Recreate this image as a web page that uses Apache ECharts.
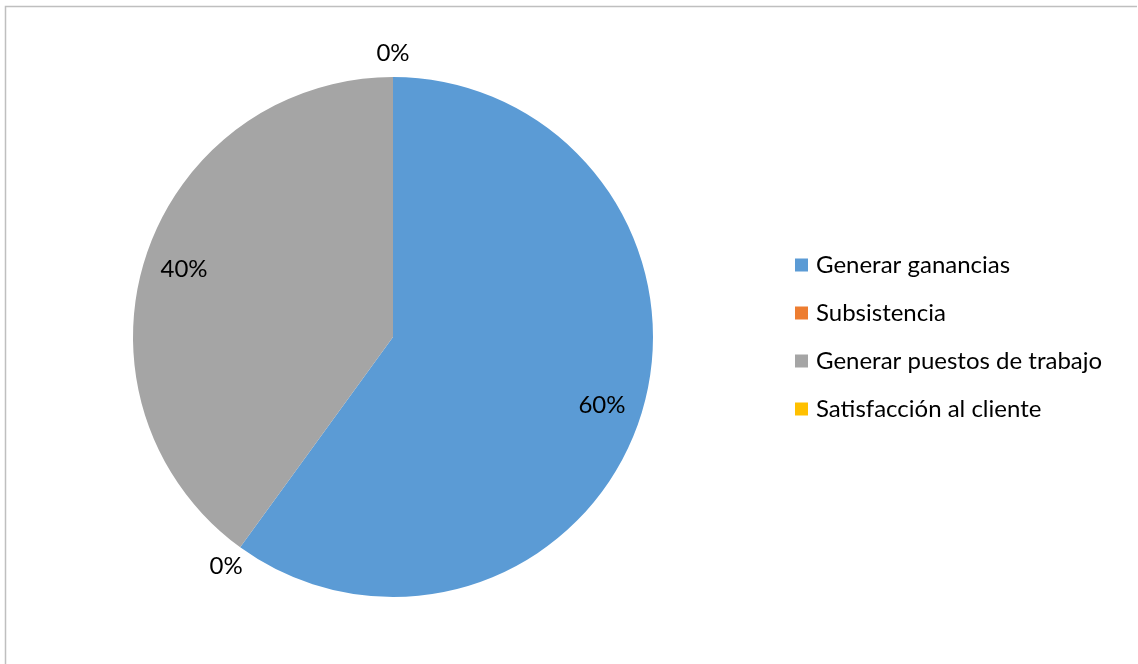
<!DOCTYPE html>
<html>
<head>
<meta charset="utf-8">
<script src="https://cdn.jsdelivr.net/npm/echarts@6/dist/echarts.min.js"></script>
<style>
  html, body { margin: 0; padding: 0; background: #fff; }
  #chart { width: 1138px; height: 664px; }
</style>
</head>
<body>
<div id="chart"></div>
<script>
// Purposes of the business, share of responses
const categories = ['Generar ganancias', 'Subsistencia', 'Generar puestos de trabajo', 'Satisfacción al cliente'];
const values = [60, 0, 40, 0];
const colors = ['#5B9BD5', '#ED7D31', '#A5A5A5', '#FFC000'];

const FONT = 'Lato, "Liberation Sans", sans-serif';
const FONT_SIZE = 24;
const CENTER = [393, 337];
const R = 260;

// Mid angle of each slice (radians, clockwise from 12 o'clock)
const total = values.reduce((a, b) => a + b, 0);
const midAngles = [];
{
  let acc = 0;
  values.forEach(v => {
    midAngles.push(((acc + v / 2) / total) * 2 * Math.PI);
    acc += v;
  });
}

const chart = echarts.init(document.getElementById('chart'));

chart.setOption({
  animation: false,
  textStyle: { fontFamily: FONT },
  graphic: [{
    type: 'polyline',
    shape: { points: [[5.5, 700], [5.5, 6.5], [1137, 6.5]] },
    style: { stroke: '#BFBFBF', lineWidth: 1.5, fill: null },
    silent: true
  }],
  legend: {
    orient: 'vertical',
    left: 795,
    top: 253,
    padding: 0,
    icon: 'rect',
    itemWidth: 13,
    itemHeight: 13,
    itemGap: 24,
    data: categories,
    textStyle: { fontFamily: FONT, fontSize: FONT_SIZE, color: '#000', padding: [0, 0, 0, 3] },
    selectedMode: false
  },
  series: [{
    type: 'pie',
    center: CENTER,
    radius: R,
    startAngle: 90,
    clockwise: true,
    avoidLabelOverlap: false,
    silent: true,
    itemStyle: { borderWidth: 0 },
    label: {
      show: true,
      position: 'outside',
      formatter: '{d}%',
      fontFamily: FONT,
      fontSize: FONT_SIZE,
      color: '#000'
    },
    labelLine: { show: false },
    // Filled slices carry their label near the rim, empty ones just outside it
    labelLayout: function (p) {
      const a = midAngles[p.dataIndex];
      const d = values[p.dataIndex] === 0 ? R + 24 : R * 0.845;
      return {
        x: CENTER[0] + d * Math.sin(a),
        y: CENTER[1] - d * Math.cos(a),
        align: 'center',
        verticalAlign: 'middle'
      };
    },
    data: categories.map((name, i) => ({
      name,
      value: values[i],
      itemStyle: { color: colors[i] }
    }))
  }]
});
</script>
</body>
</html>
